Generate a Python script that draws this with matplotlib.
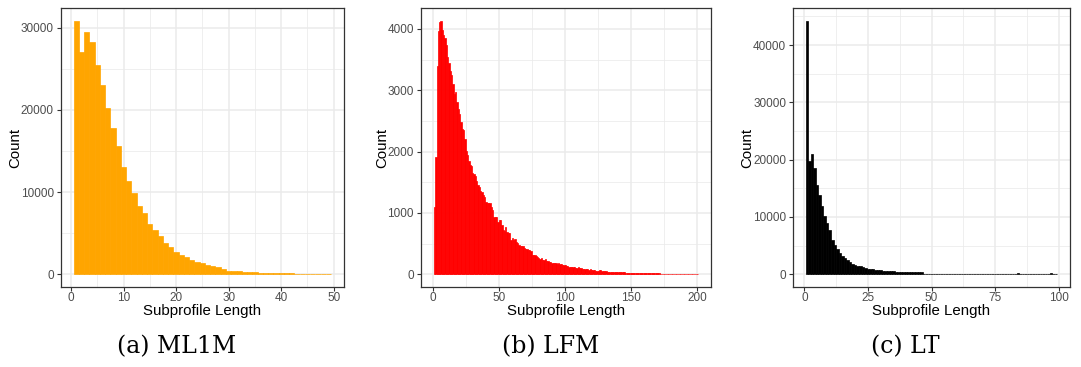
import numpy as np
import matplotlib
matplotlib.use("Agg")
import matplotlib.pyplot as plt
from matplotlib.ticker import MultipleLocator

# Subprofile length histograms (counts per length bin, bin width 1)
ml1m_lengths = list(range(1, 50))
ml1m_counts = [30850, 27000, 29500, 28200, 25400, 23050, 20250, 17850, 15550, 13100,
               11400, 9850, 8350, 7500, 6150, 5350, 4600, 3750, 3350, 2750,
               2400, 2050, 1700, 1550, 1350, 1100, 980, 850, 620, 460,
               450, 370, 340, 300, 250, 220, 180, 150, 130, 120,
               110, 100, 90, 85, 80, 75, 70, 60, 55]

lfm_lengths = list(range(1, 201))
lfm_counts = [1100, 1920, 3400, 3960, 4115, 4135, 3980, 3900, 3850, 3735,
              3540, 3445, 3320, 3255, 3100, 2945, 2975, 2810, 2695, 2615,
              2485, 2370, 2360, 2205, 2015, 1950, 1840, 1775, 1760, 1650,
              1635, 1605, 1515, 1460, 1430, 1365, 1335, 1290, 1255, 1180,
              1160, 1170, 1165, 1105, 1055, 935, 930, 930, 850, 890,
              890, 810, 715, 705, 770, 685, 675, 675, 565, 600,
              560, 580, 525, 510, 480, 465, 465, 465, 425, 415,
              415, 400, 400, 385, 320, 320, 320, 305, 285, 265,
              250, 260, 230, 240, 250, 210, 215, 200, 195, 185,
              190, 185, 180, 175, 185, 170, 165, 160, 155, 150,
              140, 135, 125, 120, 118, 122, 115, 110, 108, 112,
              105, 95, 88, 90, 85, 82, 80, 78, 82, 75,
              68, 65, 60, 62, 58, 70, 72, 55, 52, 55,
              50, 45, 42, 44, 40, 42, 38, 40, 41, 37,
              39, 35, 45, 33, 30, 28, 27, 29, 25, 28,
              26, 24, 27, 25, 22, 26, 23, 21, 24, 20,
              19, 21, 18, 20, 17, 19, 16, 18, 15, 17,
              14, 12, 13, 11, 12, 10, 11, 12, 10, 9,
              10, 11, 9, 10, 8, 9, 10, 8, 9, 8,
              9, 8, 7, 8, 9, 7, 8, 7, 8, 7]

lt_lengths = list(range(1, 100))
lt_counts = [44250, 19700, 21050, 18550, 15650, 13900, 12000, 10250, 8950, 7800,
             6050, 5180, 4420, 3720, 3150, 2850, 2450, 2100, 1870, 1650,
             1500, 1380, 1250, 1100, 1000, 950, 880, 800, 740, 680,
             640, 590, 560, 520, 500, 470, 450, 430, 420, 400,
             390, 380, 370, 360, 350, 340, 130, 125, 120, 118,
             115, 112, 110, 110, 108, 106, 105, 104, 102, 100,
             100, 98, 97, 96, 95, 95, 94, 93, 92, 92,
             91, 90, 90, 89, 88, 88, 87, 30, 60, 25,
             60, 55, 60, 200, 60, 55, 50, 50, 48, 48,
             46, 45, 45, 44, 44, 43, 210, 45, 40]

panels = [
    dict(x=ml1m_lengths, y=ml1m_counts, color="#FFA500", caption="(a) ML1M",
         xmajor=10, ymajor=10000, rect=(60.7, 344.0), cap_x=177),
    dict(x=lfm_lengths, y=lfm_counts, color="#FF0000", caption="(b) LFM",
         xmajor=50, ymajor=1000, rect=(420.7, 711.0), cap_x=551),
    dict(x=lt_lengths, y=lt_counts, color="#000000", caption="(c) LT",
         xmajor=25, ymajor=10000, rect=(793.0, 1070.0), cap_x=905),
]

W, H = 1081, 367
fig = plt.figure(figsize=(W / 100, H / 100), dpi=100)

top_px, bottom_px = 8.0, 287.0
grid_col = "#EBEBEB"
border_col = "#333333"
tick_text_col = "#4D4D4D"
sans = ["Liberation Sans", "DejaVu Sans"]

for p in panels:
    l, r = p["rect"]
    ax = fig.add_axes([l / W, 1 - bottom_px / H, (r - l) / W, (bottom_px - top_px) / H])
    xs = np.asarray(p["x"], dtype=float)
    ys = np.asarray(p["y"], dtype=float)
    ax.bar(xs, ys, width=1.0, color=p["color"], edgecolor=p["color"],
           linewidth=0.5, align="center", zorder=3)

    # ggplot-style 5% expansion around the data
    x0, x1 = xs.min() - 0.5, xs.max() + 0.5
    dx = 0.05 * (x1 - x0)
    ax.set_xlim(x0 - dx, x1 + dx)
    ymax = ys.max()
    ax.set_ylim(-0.05 * ymax, 1.05 * ymax)

    ax.xaxis.set_major_locator(MultipleLocator(p["xmajor"]))
    ax.xaxis.set_minor_locator(MultipleLocator(p["xmajor"] / 2))
    ax.yaxis.set_major_locator(MultipleLocator(p["ymajor"]))
    ax.yaxis.set_minor_locator(MultipleLocator(p["ymajor"] / 2))

    ax.set_facecolor("white")
    ax.grid(which="major", color=grid_col, linewidth=1.1, zorder=0)
    ax.grid(which="minor", color=grid_col, linewidth=0.55, zorder=0)
    ax.set_axisbelow(True)
    for s in ax.spines.values():
        s.set_color(border_col)
        s.set_linewidth(0.9)
        s.set_zorder(5)

    ax.tick_params(which="major", length=3, width=0.8, color=border_col,
                   labelsize=8.5, labelcolor=tick_text_col)
    ax.tick_params(axis="x", which="major", pad=0.8)
    ax.tick_params(axis="y", which="major", pad=2)
    ax.tick_params(which="minor", length=0)
    for lab in ax.get_xticklabels() + ax.get_yticklabels():
        lab.set_family(sans)

    ax.set_xlabel("Subprofile Length", fontsize=10.8, family=sans, labelpad=0)
    ax.set_ylabel("Count", fontsize=10.8, family=sans, labelpad=-1.2)

    fig.text(p["cap_x"] / W, 1 - 347 / H, p["caption"], ha="center", va="center",
             fontsize=17, family=["DejaVu Serif"])

fig.savefig("out.png", dpi=100, facecolor="white")
